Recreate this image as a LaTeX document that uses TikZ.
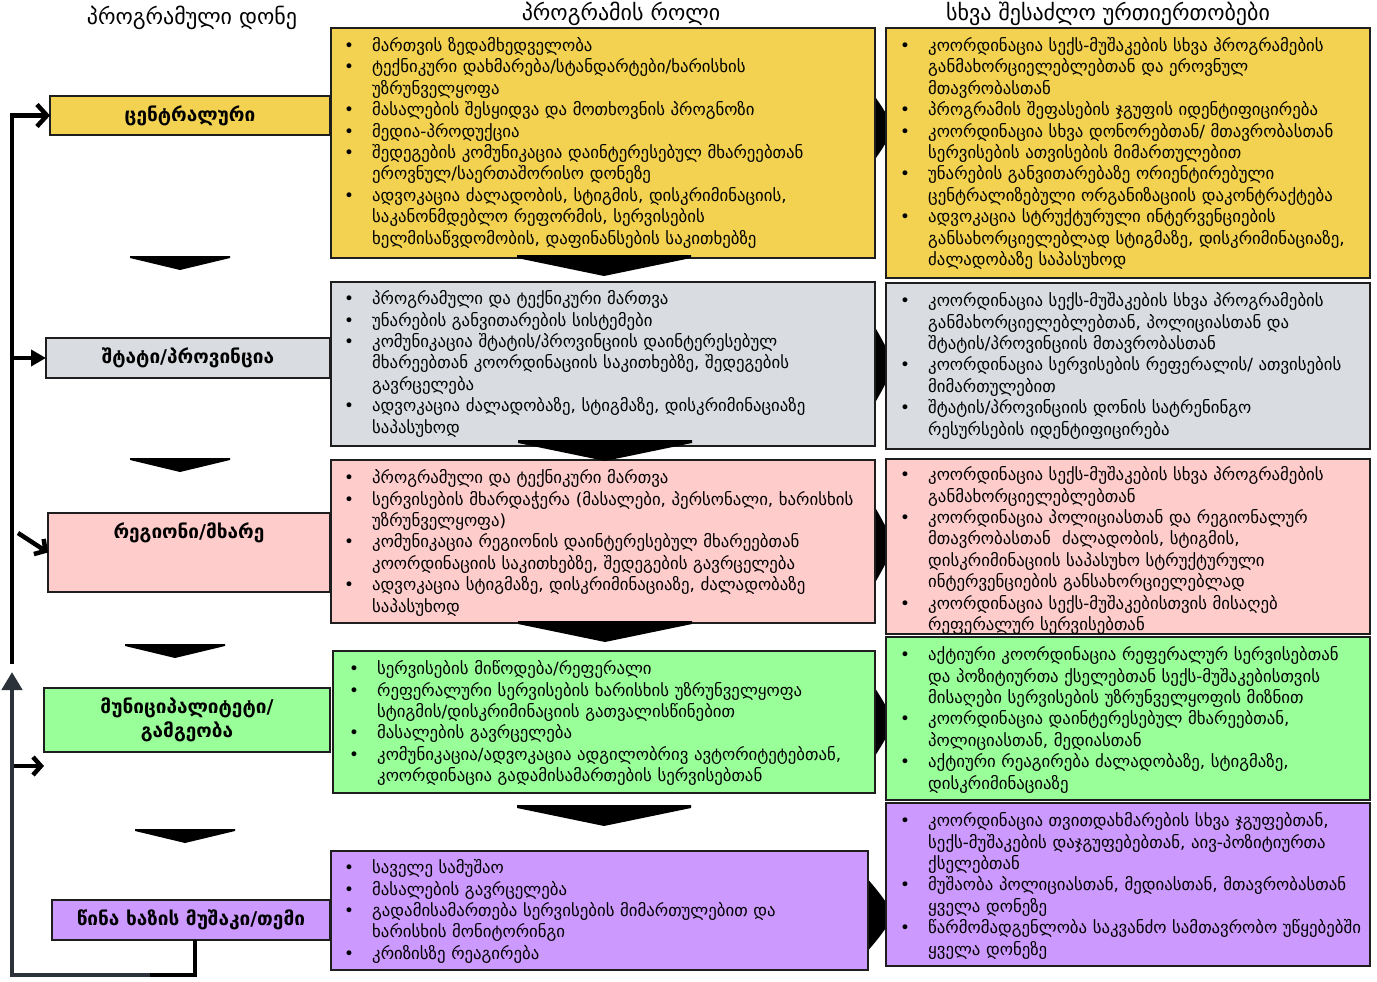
\documentclass[tikz,border=0pt]{standalone}
\usepackage{fontspec}
\setmainfont{DejaVu Sans}
\usetikzlibrary{arrows.meta,calc}

\definecolor{cYel}{HTML}{F2D250}
\definecolor{cGry}{HTML}{D9DDE1}
\definecolor{cPnk}{HTML}{FFCCCC}
\definecolor{cGrn}{HTML}{99FF99}
\definecolor{cPur}{HTML}{CC99FF}
\definecolor{slate}{HTML}{2B323A}
\definecolor{edge}{HTML}{1E1E1E}

% bullet item: first line carries the bullet, \nl starts an indented follow-on line
\newcommand\bitem[1]{\par\noindent\makebox[28pt][l]{\strut•}#1}
\newcommand\nl{\par\noindent\hspace*{28pt}\strut}

\tikzset{
  box/.style={draw=edge, line width=1.5pt, anchor=north west, inner sep=0pt, outer sep=0pt},
  txt/.style={anchor=north west, inner sep=0pt, align=left, text width=600pt,
              font=\fontsize{16.8}{21.4}\selectfont},
  lvl/.style={font=\fontsize{19}{24}\selectfont\bfseries, align=center, inner sep=0pt},
  head/.style={font=\fontsize{22}{26}\selectfont, inner sep=0pt},
  feed/.style={line width=4.5pt, draw=black},
  wedge/.style={fill=black, draw=none},
}

\begin{document}
\begin{tikzpicture}[x=1pt,y=-1pt]
\useasboundingbox (0,0) rectangle (1377,982);
\setlength\parskip{0pt}

% column headings
\node[head] (h1) at (192,18) {პროგრამული დონე};
\node[head] (h2) at (621,14) {პროგრამის როლი};
\node[head] (h3) at (1108,14) {სხვა შესაძლო ურთიერთობები};

% chevrons between role and relations columns (behind the boxes)
\foreach \yc/\hh in {128/48, 365/58, 545/58, 722/52, 915/42}{
  \fill[black] (862,\yc-\hh) .. controls (878,\yc-\hh*0.6) and (890,\yc-\hh*0.2) .. (893,\yc)
     .. controls (890,\yc+\hh*0.2) and (878,\yc+\hh*0.6) .. (862,\yc+\hh) -- cycle;
}

% level boxes
\node[box, fill=cYel, minimum width=280pt, minimum height=39pt] (l1) at (50,96) {};
\node[box, fill=cGry, minimum width=284pt, minimum height=40pt] (l2) at (46,338) {};
\node[box, fill=cPnk, minimum width=282pt, minimum height=79pt] (l3) at (48,513) {};
\node[box, fill=cGrn, minimum width=286pt, minimum height=64pt] (l4) at (44,688) {};
\node[box, fill=cPur, minimum width=278pt, minimum height=40pt] (l5) at (52,900) {};

\node[lvl] (t1) at (l1.center) {ცენტრალური};
\node[lvl] (t2) at (l2.center) {შტატი/პროვინცია};
\node[lvl] (t3) at (189,533) {რეგიონი/მხარე};
\node[lvl] (t4) at (187,720) {მუნიციპალიტეტი/\\გამგეობა};
\node[lvl] (t5) at (l5.center) {წინა ხაზის მუშაკი/თემი};

% role boxes
\node[box, fill=cYel, minimum width=544pt, minimum height=230pt] (m1) at (331,28) {};
\node[box, fill=cGry, minimum width=544pt, minimum height=164pt] (m2) at (331,282) {};
\node[box, fill=cPnk, minimum width=544pt, minimum height=163pt] (m3) at (331,460) {};
\node[box, fill=cGrn, minimum width=542pt, minimum height=142pt] (m4) at (333,651) {};
\node[box, fill=cPur, minimum width=537pt, minimum height=119pt] (m5) at (331,851) {};

% relation boxes
\node[box, fill=cYel, minimum width=484pt, minimum height=250pt] (r1) at (886,28) {};
\node[box, fill=cGry, minimum width=484pt, minimum height=166pt] (r2) at (886,283) {};
\node[box, fill=cPnk, minimum width=484pt, minimum height=175pt] (r3) at (886,459) {};
\node[box, fill=cGrn, minimum width=484pt, minimum height=163pt, line width=2pt] (r4) at (886,637) {};
\node[box, fill=cPur, minimum width=484pt, minimum height=163pt] (r5) at (886,803) {};

% role texts
\node[txt] (mt1) at (344,30) {%
\bitem{მართვის ზედამხედველობა}
\bitem{ტექნიკური დახმარება/სტანდარტები/ხარისხის}\nl უზრუნველყოფა
\bitem{მასალების შესყიდვა და მოთხოვნის პროგნოზი}
\bitem{მედია-პროდუქცია}
\bitem{შედეგების კომუნიკაცია დაინტერესებულ მხარეებთან}\nl ეროვნულ/საერთაშორისო დონეზე
\bitem{ადვოკაცია ძალადობის, სტიგმის, დისკრიმინაციის,}\nl საკანონმდებლო რეფორმის, სერვისების\nl ხელმისაწვდომობის, დაფინანსების საკითხებზე};

\node[txt] (mt2) at (344,283) {%
\bitem{პროგრამული და ტექნიკური მართვა}
\bitem{უნარების განვითარების სისტემები}
\bitem{კომუნიკაცია შტატის/პროვინციის დაინტერესებულ}\nl მხარეებთან კოორდინაციის საკითხებზე, შედეგების\nl გავრცელება
\bitem{ადვოკაცია ძალადობაზე, სტიგმაზე, დისკრიმინაციაზე}\nl საპასუხოდ};

\node[txt] (mt3) at (344,462) {%
\bitem{პროგრამული და ტექნიკური მართვა}
\bitem{სერვისების მხარდაჭერა (მასალები, პერსონალი, ხარისხის}\nl უზრუნველყოფა)
\bitem{კომუნიკაცია რეგიონის დაინტერესებულ მხარეებთან}\nl კოორდინაციის საკითხებზე, შედეგების გავრცელება
\bitem{ადვოკაცია სტიგმაზე, დისკრიმინაციაზე, ძალადობაზე}\nl საპასუხოდ};

\node[txt] (mt4) at (349,653) {%
\bitem{სერვისების მიწოდება/რეფერალი}
\bitem{რეფერალური სერვისების ხარისხის უზრუნველყოფა}\nl სტიგმის/დისკრიმინაციის გათვალისწინებით
\bitem{მასალების გავრცელება}
\bitem{კომუნიკაცია/ადვოკაცია ადგილობრივ ავტორიტეტებთან,}\nl კოორდინაცია გადამისამართების სერვისებთან};

\node[txt] (mt5) at (344,852) {%
\bitem{საველე სამუშაო}
\bitem{მასალების გავრცელება}
\bitem{გადამისამართება სერვისების მიმართულებით და}\nl ხარისხის მონიტორინგი
\bitem{კრიზისზე რეაგირება}};

% relation texts
\node[txt] (rt1) at (900,30) {%
\bitem{კოორდინაცია სექს-მუშაკების სხვა პროგრამების}\nl განმახორციელებლებთან და ეროვნულ\nl მთავრობასთან
\bitem{პროგრამის შეფასების ჯგუფის იდენტიფიცირება}
\bitem{კოორდინაცია სხვა დონორებთან/ მთავრობასთან}\nl სერვისების ათვისების მიმართულებით
\bitem{უნარების განვითარებაზე ორიენტირებული}\nl ცენტრალიზებული ორგანიზაციის დაკონტრაქტება
\bitem{ადვოკაცია სტრუქტურული ინტერვენციების}\nl განსახორციელებლად სტიგმაზე, დისკრიმინაციაზე,\nl ძალადობაზე საპასუხოდ};

\node[txt] (rt2) at (900,285) {%
\bitem{კოორდინაცია სექს-მუშაკების სხვა პროგრამების}\nl განმახორციელებლებთან, პოლიციასთან და\nl შტატის/პროვინციის მთავრობასთან
\bitem{კოორდინაცია სერვისების რეფერალის/ ათვისების}\nl მიმართულებით
\bitem{შტატის/პროვინციის დონის სატრენინგო}\nl რესურსების იდენტიფიცირება};

\node[txt] (rt3) at (900,459) {%
\bitem{კოორდინაცია სექს-მუშაკების სხვა პროგრამების}\nl განმახორციელებლებთან
\bitem{კოორდინაცია პოლიციასთან და რეგიონალურ}\nl მთავრობასთან\ \ ძალადობის, სტიგმის,\nl დისკრიმინაციის საპასუხო სტრუქტურული\nl ინტერვენციების განსახორციელებლად
\bitem{კოორდინაცია სექს-მუშაკებისთვის მისაღებ}\nl რეფერალურ სერვისებთან};

\node[txt] (rt4) at (900,639) {%
\bitem{აქტიური კოორდინაცია რეფერალურ სერვისებთან}\nl და პოზიტიურთა ქსელებთან სექს-მუშაკებისთვის\nl მისაღები სერვისების უზრუნველყოფის მიზნით
\bitem{კოორდინაცია დაინტერესებულ მხარეებთან,}\nl პოლიციასთან, მედიასთან
\bitem{აქტიური რეაგირება ძალადობაზე, სტიგმაზე,}\nl დისკრიმინაციაზე};

\node[txt] (rt5) at (900,805) {%
\bitem{კოორდინაცია თვითდახმარების სხვა ჯგუფებთან,}\nl სექს-მუშაკების დაჯგუფებებთან, აივ-პოზიტიურთა\nl ქსელებთან
\bitem{მუშაობა პოლიციასთან, მედიასთან, მთავრობასთან}\nl ყველა დონეზე
\bitem{წარმომადგენლობა საკვანძო სამთავრობო უწყებებში}\nl ყველა დონეზე};

% downward wedges, level column
\foreach \xc/\yt in {180/256, 180/458, 175/644, 185/829}{
  \fill[wedge] (\xc-50,\yt) -- (\xc+50,\yt) -- (\xc+50,\yt+2) -- (\xc,\yt+14) -- (\xc-50,\yt+2) -- cycle;
}
% downward wedges, role column
\foreach \xc/\yt in {604/255, 605/440, 605/621, 604/805}{
  \fill[wedge] (\xc-87,\yt) -- (\xc+87,\yt) -- (\xc+87,\yt+3) -- (\xc,\yt+21) -- (\xc-87,\yt+3) -- cycle;
}

% feedback loop from front line back up to the centre
\coordinate (turn) at (150,975);
\coordinate (uptip) at (12,672);
\coordinate (pinkfrom) at (18,533);
\coordinate (greenfrom) at (12,766);
\coordinate (greento) at (44,766);

\draw[feed, -{Straight Barb[length=10pt,width=22pt]}] (12,664) |- (l1.west);
\draw[feed, -{Triangle[length=15pt,width=16pt]}] (12,358) -- (l2.west);
\draw[feed, -{Straight Barb[length=8pt,width=18pt]}] (pinkfrom) -- (l3.west);
\draw[feed, -{Straight Barb[length=8pt,width=18pt]}] (greenfrom) -- (greento);
\draw[feed] ($(l5.south)+(4,0)$) |- (turn);
\draw[line width=4.5pt, draw=slate, -{Triangle[length=18pt,width=20pt]}] (turn) -- (12,975) -- (uptip);
\end{tikzpicture}
\end{document}
